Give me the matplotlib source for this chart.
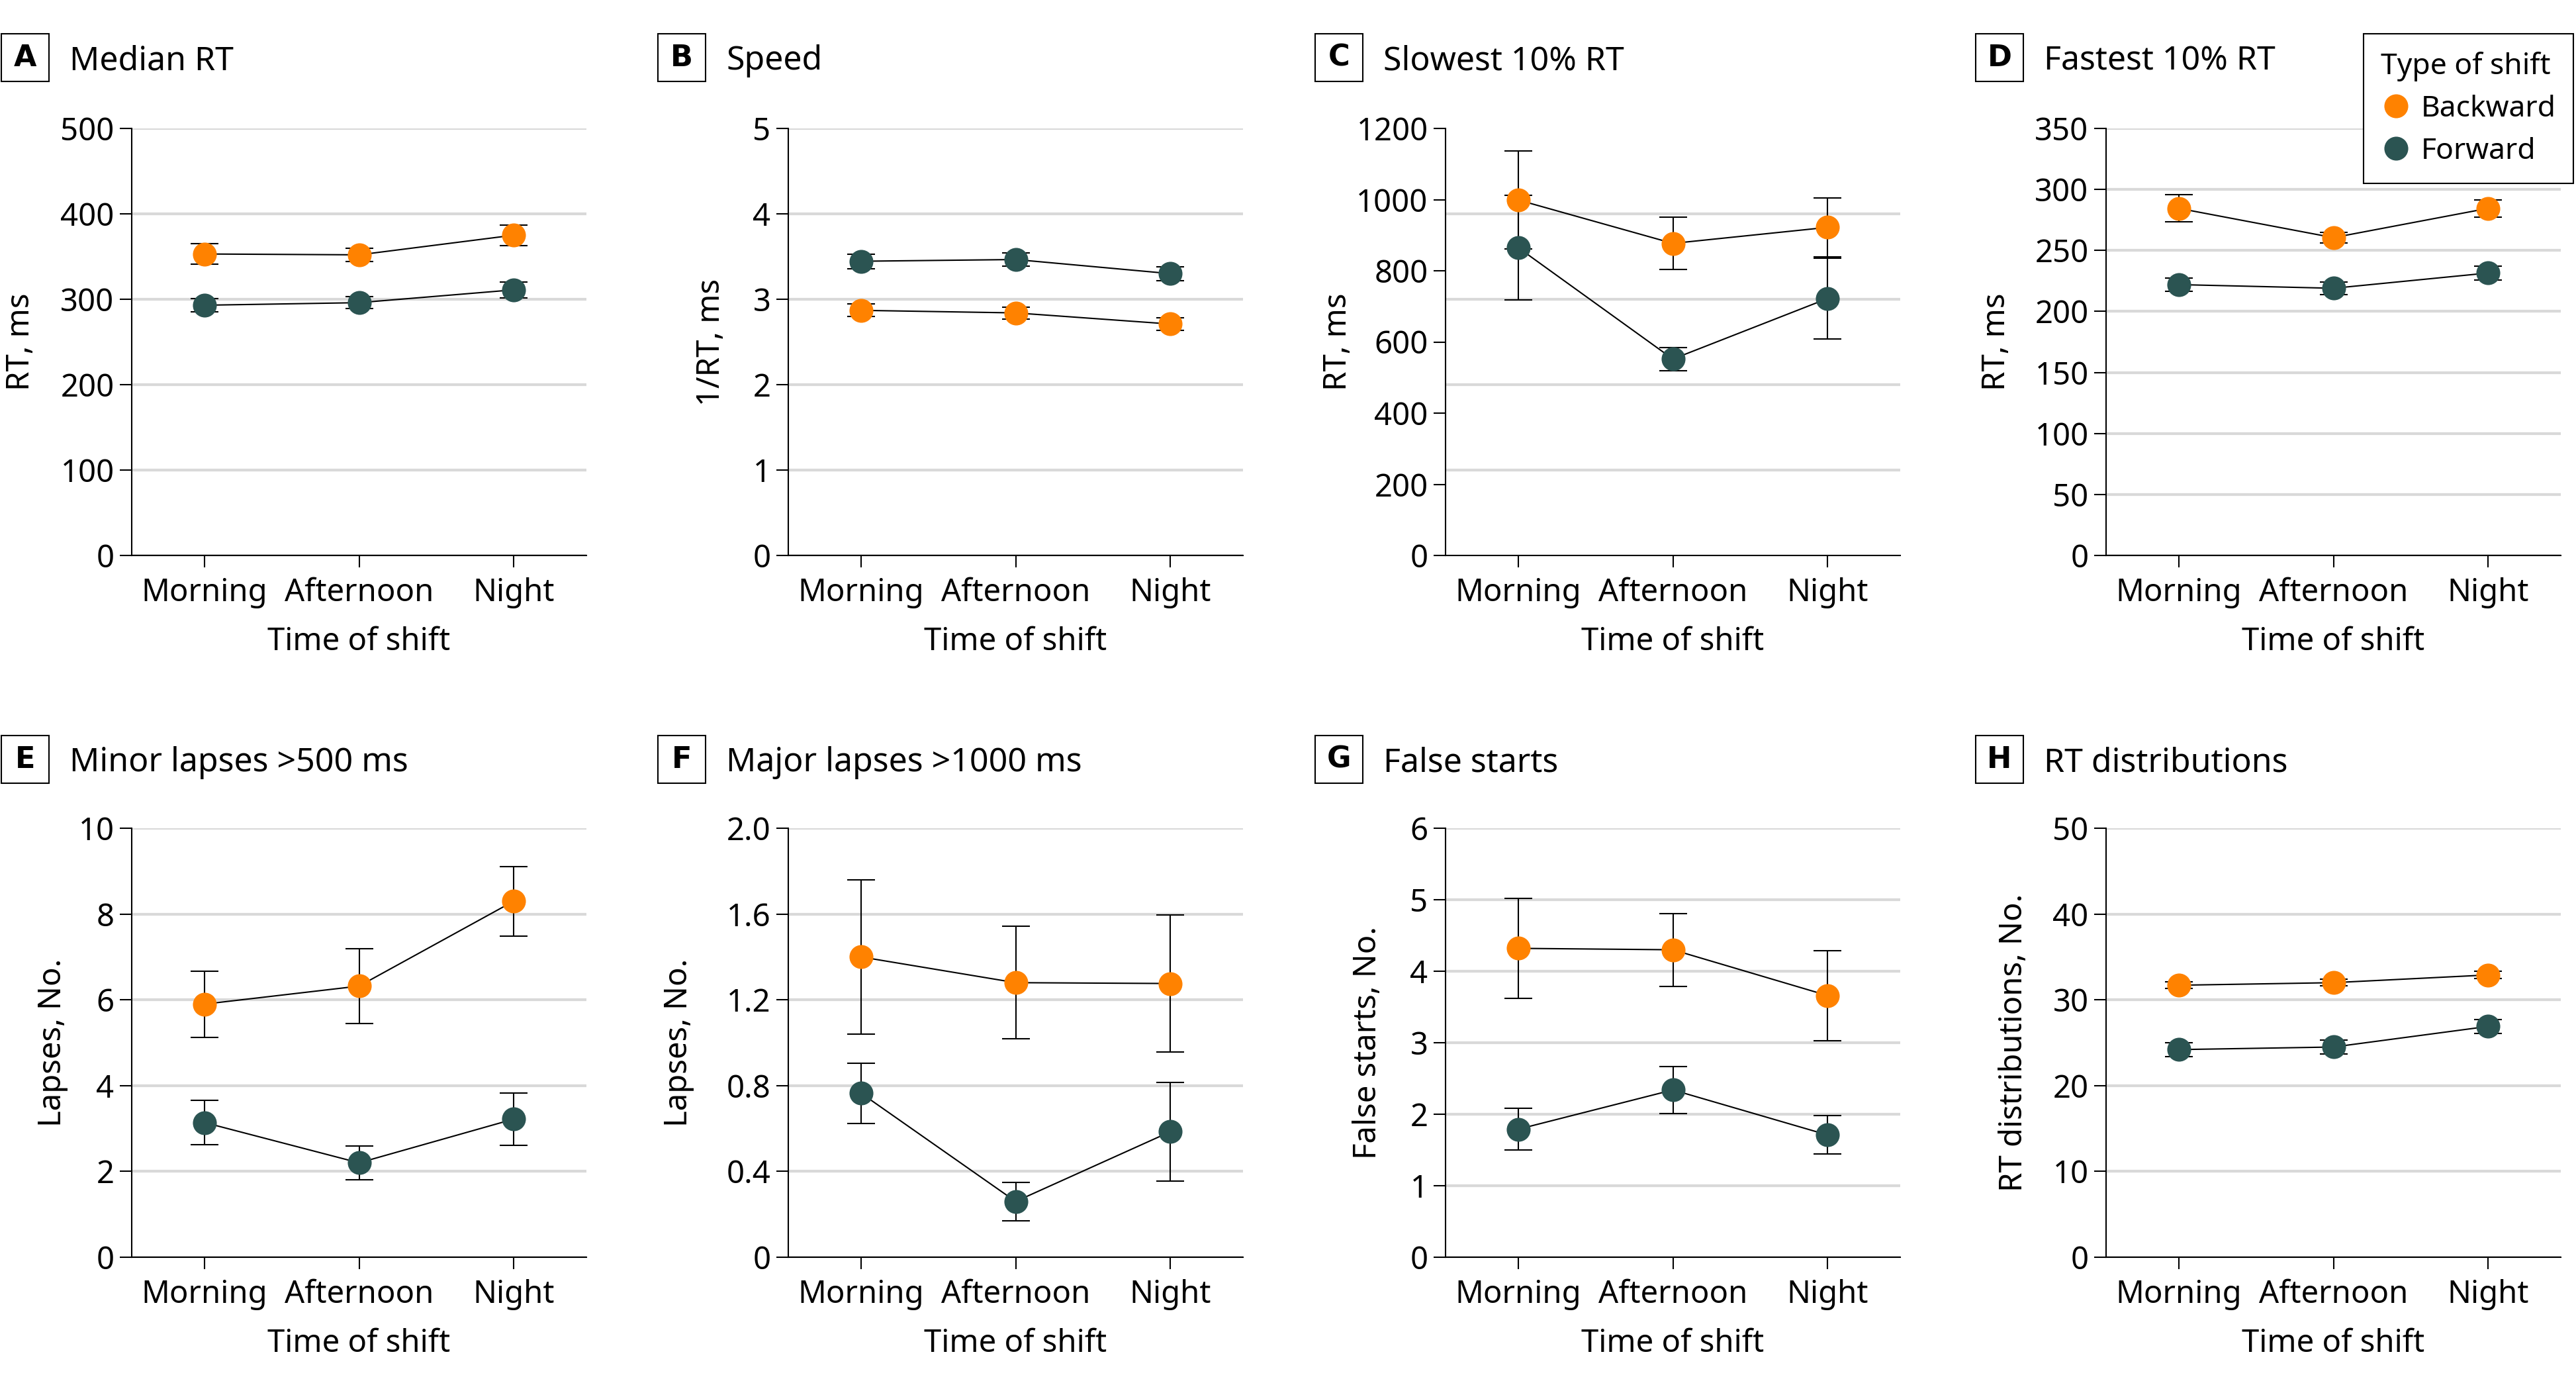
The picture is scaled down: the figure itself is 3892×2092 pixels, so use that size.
import numpy as np
import matplotlib.pyplot as plt
from matplotlib.lines import Line2D
from matplotlib.patches import Rectangle

plt.rcParams['font.family'] = ['Noto Sans', 'DejaVu Sans']

shifts = ["Morning", "Afternoon", "Night"]
orange = "#FF8200"
teal = "#2B5452"

# A: median RT
median_back = [353, 352, 375]
median_back_err = [12, 8, 12]
median_fwd = [293, 296, 311]
median_fwd_err = [8, 7, 9.5]

# B: speed
speed_back = [2.87, 2.84, 2.71]
speed_back_err = [0.075, 0.07, 0.075]
speed_fwd = [3.445, 3.465, 3.30]
speed_fwd_err = [0.085, 0.075, 0.08]

# C: slowest 10%
slow_back = [999, 877, 922]
slow_back_err = [138, 74, 83]
slow_fwd = [865, 552, 722]
slow_fwd_err = [147, 32, 113]

# D: fastest 10%
fast_back = [284.5, 260.5, 284.5]
fast_back_err = [11, 4.5, 7]
fast_fwd = [222, 219, 231.5]
fast_fwd_err = [5.5, 5, 5.5]

# E: minor lapses
minor_back = [5.9, 6.32, 8.3]
minor_back_err = [0.77, 0.87, 0.81]
minor_fwd = [3.14, 2.2, 3.22]
minor_fwd_err = [0.51, 0.40, 0.61]

# F: major lapses
major_back = [1.40, 1.28, 1.276]
major_back_err = [0.36, 0.262, 0.32]
major_fwd = [0.765, 0.26, 0.585]
major_fwd_err = [0.14, 0.09, 0.23]

# G: false starts
false_back = [4.32, 4.30, 3.66]
false_back_err = [0.70, 0.51, 0.63]
false_fwd = [1.79, 2.34, 1.71]
false_fwd_err = [0.29, 0.33, 0.27]

# H: RT distributions
dist_back = [31.7, 32.0, 32.9]
dist_back_err = [0.4, 0.4, 0.4]
dist_fwd = [24.2, 24.5, 26.9]
dist_fwd_err = [0.8, 0.8, 0.8]

panels = [
    ("A", "Median RT", "RT, ms", median_back, median_back_err, median_fwd, median_fwd_err,
     [0, 100, 200, 300, 400, 500], None, None),
    ("B", "Speed", "1/RT, ms", speed_back, speed_back_err, speed_fwd, speed_fwd_err,
     [0, 1, 2, 3, 4, 5], None, None),
    ("C", "Slowest 10% RT", "RT, ms", slow_back, slow_back_err, slow_fwd, slow_fwd_err,
     [0, 200, 400, 600, 800, 1000, 1200], None, [0, 240, 480, 720, 960, 1200]),
    ("D", "Fastest 10% RT", "RT, ms", fast_back, fast_back_err, fast_fwd, fast_fwd_err,
     [0, 50, 100, 150, 200, 250, 300, 350], None, None),
    ("E", "Minor lapses >500 ms", "Lapses, No.", minor_back, minor_back_err, minor_fwd, minor_fwd_err,
     [0, 2, 4, 6, 8, 10], None, None),
    ("F", "Major lapses >1000 ms", "Lapses, No.", major_back, major_back_err, major_fwd, major_fwd_err,
     [0, 0.4, 0.8, 1.2, 1.6, 2.0], ["0", "0.4", "0.8", "1.2", "1.6", "2.0"], None),
    ("G", "False starts", "False starts, No.", false_back, false_back_err, false_fwd, false_fwd_err,
     [0, 1, 2, 3, 4, 5, 6], None, None),
    ("H", "RT distributions", "RT distributions, No.", dist_back, dist_back_err, dist_fwd, dist_fwd_err,
     [0, 10, 20, 30, 40, 50], None, None),
]

W, H = 3892, 2092
fig = plt.figure(figsize=(W / 100, H / 100), dpi=100)

lefts = [199, 1191, 2184, 3182]
tops = [194, 1251]
bottoms = [839, 1899]
label_y = [87, 1147]
ax_w = 687
# y-label anchor offsets (axes fraction), read per panel
ylab_x = [-0.210, -0.136, -0.203, -0.207, -0.140, -0.206, -0.137, -0.169]

x = np.arange(3)
for i, (letter, title, ylabel, yb, eb, yf, ef, yticks, yticklabels, gridpos) in enumerate(panels):
    r, c = divmod(i, 4)
    ax = fig.add_axes([lefts[c] / W, 1 - bottoms[r] / H, ax_w / W, (bottoms[r] - tops[r]) / H])

    for y, e, col in [(yf, ef, teal), (yb, eb, orange)]:
        ax.plot(x, y, color="black", lw=1.5, zorder=2)
        ax.errorbar(x, y, yerr=e, fmt="none", ecolor="black", elinewidth=1.5,
                    capsize=15, capthick=1.5, zorder=3)
        ax.plot(x, y, "o", ms=26, color=col, mec="none", zorder=4)

    ax.set_xlim(-0.47, 2.47)
    ax.set_ylim(yticks[0], yticks[-1])
    ax.set_xticks(x)
    ax.set_xticklabels(shifts)
    ax.set_yticks(yticks)
    if yticklabels:
        ax.set_yticklabels(yticklabels)
    if gridpos:
        ax.set_yticks(gridpos, minor=True)
        ax.yaxis.grid(True, which="minor", color="#d9d9d9", lw=3)
        ax.tick_params(axis="y", which="minor", length=0)
    else:
        ax.yaxis.grid(True, color="#d9d9d9", lw=3)
    ax.set_axisbelow(True)

    for s in ["top", "right"]:
        ax.spines[s].set_visible(False)
    for s in ["left", "bottom"]:
        ax.spines[s].set_linewidth(1.5)
    ax.tick_params(which="major", length=13, width=1.5, labelsize=34, pad=6)
    ax.tick_params(axis="x", which="major", pad=11)
    ax.set_xlabel("Time of shift", fontsize=34, labelpad=19)
    ax.set_ylabel(ylabel, fontsize=34)
    ax.yaxis.set_label_coords(ylab_x[i], 0.5)

    # panel letter box and title
    bx = lefts[c] - 197
    cy = label_y[r]
    fig.add_artist(Rectangle((bx / W, 1 - (cy + 36) / H), 72 / W, 72 / H,
                             transform=fig.transFigure, fill=False, ec="black", lw=1.5))
    fig.text((bx + 36) / W, 1 - cy / H, letter, ha="center", va="center",
             fontsize=32, fontweight="bold", family="DejaVu Sans")
    fig.text((lefts[c] - 94) / W, 1 - (cy + 5) / H, title, ha="left", va="center", fontsize=36)

handles = [
    Line2D([], [], marker="o", ls="none", ms=26, color=orange, mec="none", label="Backward"),
    Line2D([], [], marker="o", ls="none", ms=26, color=teal, mec="none", label="Forward"),
]
leg = fig.legend(handles=handles, title="Type of shift", loc="upper right",
                 bbox_to_anchor=(3888 / W, 1 - 51 / H), borderaxespad=0,
                 fontsize=32, title_fontsize=32,
                 frameon=True, fancybox=False, edgecolor="black", framealpha=1,
                 handletextpad=0.35, handlelength=1.0, borderpad=0.6, labelspacing=0.45,
                 alignment="left")
leg.get_frame().set_linewidth(1.5)

fig.savefig("out.png", dpi=100, facecolor="white")
